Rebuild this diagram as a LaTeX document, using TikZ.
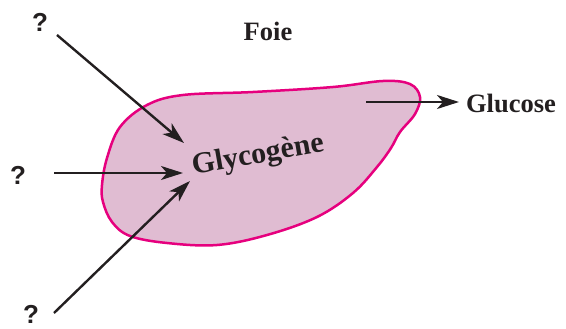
\documentclass[tikz,border=0pt]{standalone}
\usepackage{fontspec}
\setmainfont{Liberation Serif}
\newfontfamily\qfont{Liberation Sans}
\usetikzlibrary{arrows.meta}
\definecolor{txt}{RGB}{35,31,32}
\definecolor{liverfill}{RGB}{224,188,210}
\definecolor{liverline}{RGB}{230,0,126}
\tikzset{
  arr/.style={line width=2.4pt, draw=txt, -{Stealth[length=22pt,width=14pt,inset=6pt]}},
  qlabel/.style={font=\qfont\bfseries\fontsize{26}{28}\selectfont, text=txt, inner sep=0pt},
  lbl/.style={font=\bfseries\fontsize{26.5}{28}\selectfont, text=txt, inner sep=0pt},
}
\begin{document}
\begin{tikzpicture}[x=1pt,y=-1pt]
\useasboundingbox (0,0) rectangle (566,329);
% liver
\draw[liverline, fill=liverfill, line width=2.5pt]
  plot[smooth cycle, tension=0.6] coordinates {
  (102,185) (107,158) (120,127) (147,105) (183,95) (253,92) (333,87)
  (383,81) (410,84) (420,97) (415,114) (400,132) (391,148) (377,167)
  (353,193) (317,217) (267,235) (217,245) (167,243) (130,236) (112,222) (103,202)};
% labels
\node[lbl] (foie) at (268,31) {Foie};
\node[lbl] (glucose) at (511,103) {Glucose};
\node[lbl, font=\bfseries\fontsize{30}{32}\selectfont, rotate=10] (glyco) at (258,156) {Glycogène};
\node[qlabel] (q1) at (40,22) {?};
\node[qlabel] (q2) at (18,175) {?};
\node[qlabel] (q3) at (31,314) {?};
% arrow ends
\coordinate (s1) at (57,35);
\coordinate (e1) at (184,143);
\coordinate (s2) at (54,173);
\coordinate (e2) at (183,173);
\coordinate (s3) at (54,313);
\coordinate (e3) at (190,181);
\coordinate (s4) at (366,102);
\coordinate (e4) at (459,102);
\draw[arr] (s1) -- (e1);
\draw[arr] (s2) -- (e2);
\draw[arr] (s3) -- (e3);
\draw[arr] (s4) -- (e4);
\end{tikzpicture}
\end{document}
